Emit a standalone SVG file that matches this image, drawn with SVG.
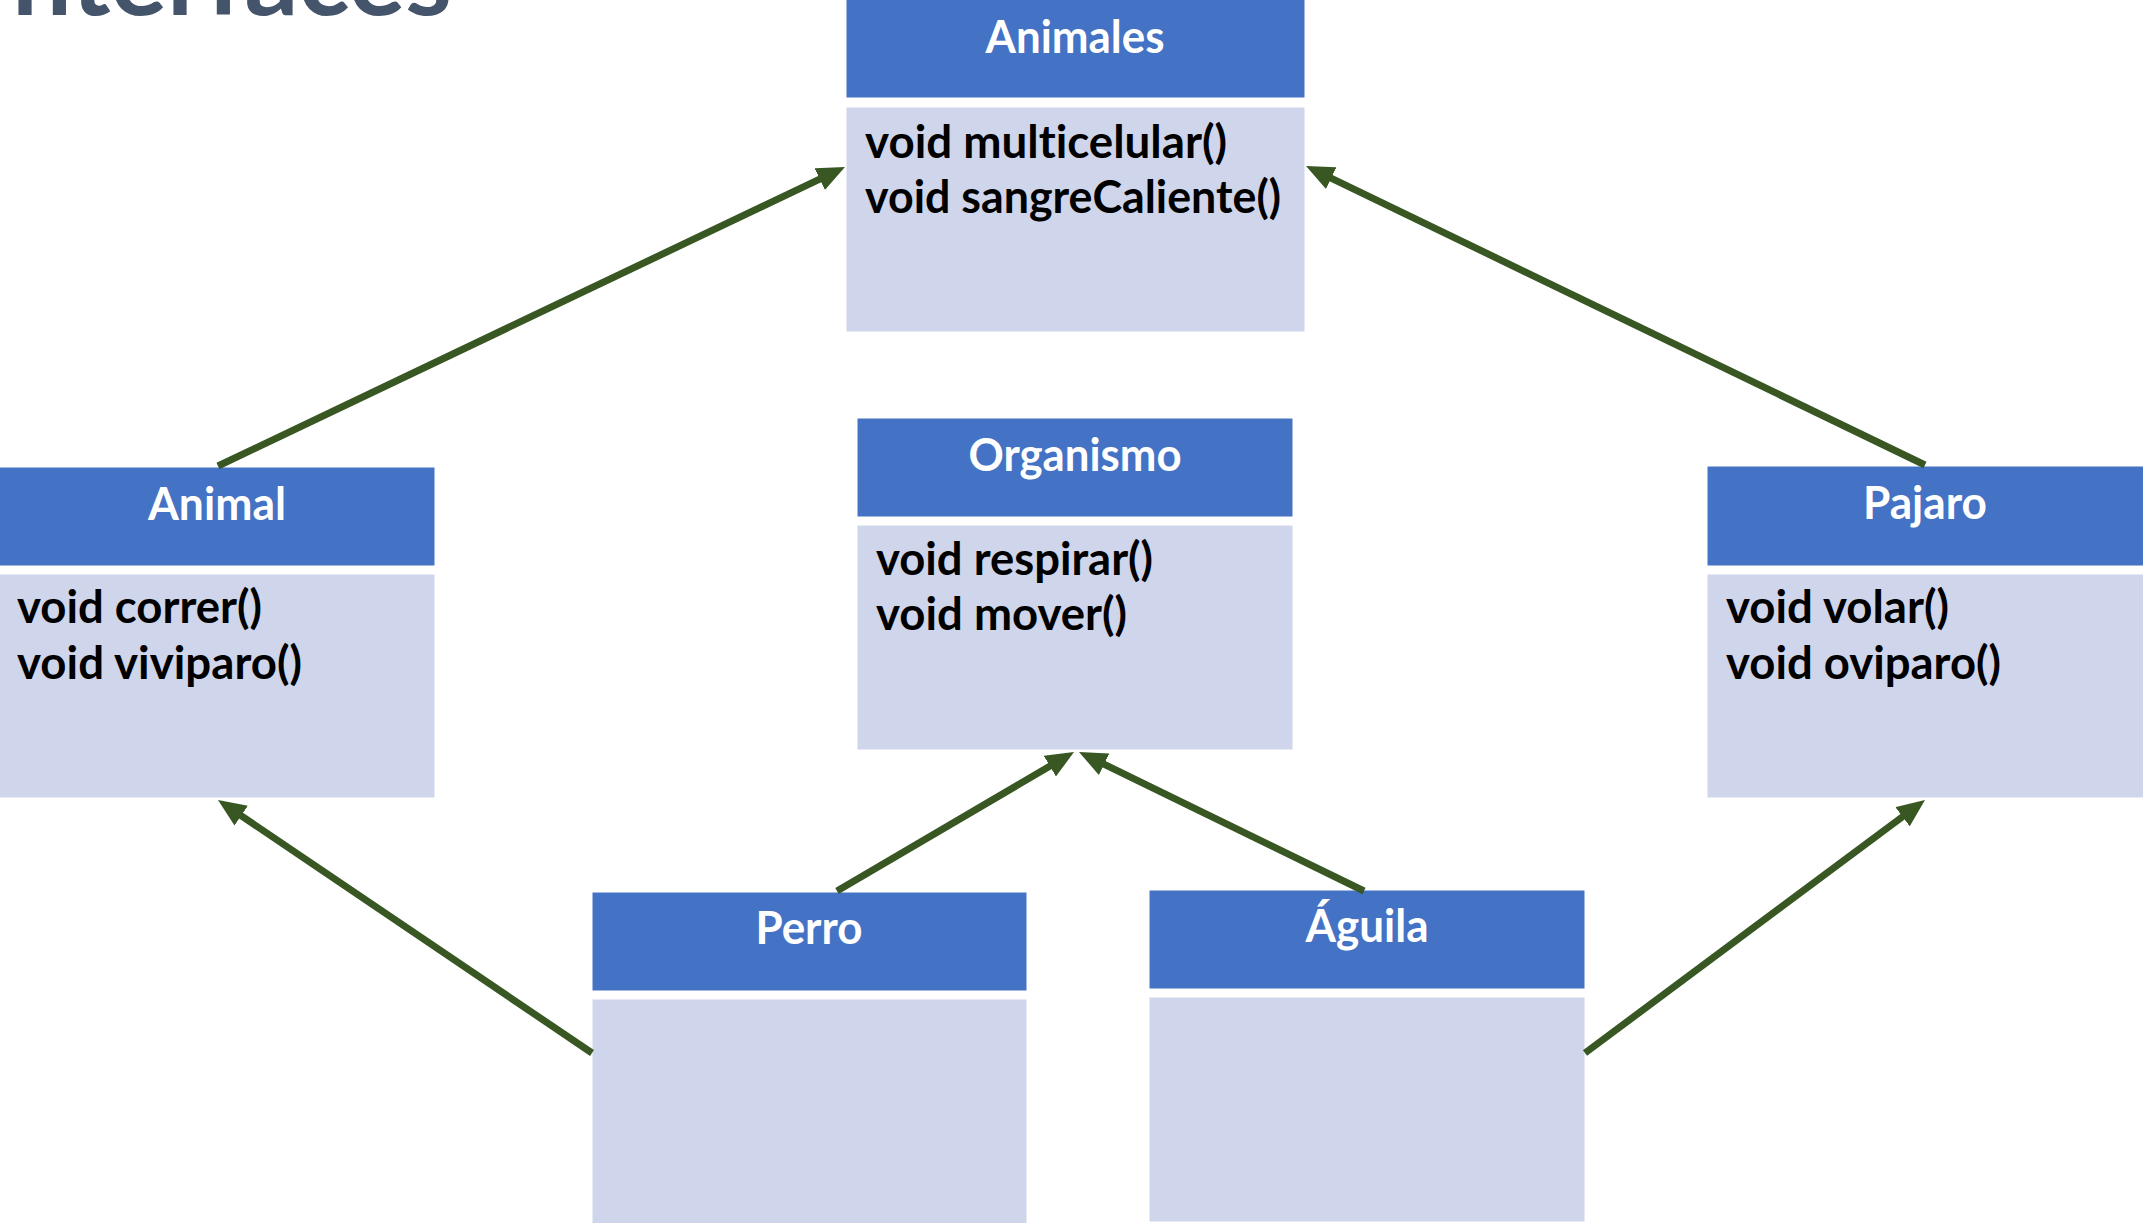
<svg xmlns="http://www.w3.org/2000/svg" width="2143" height="1223" viewBox="0 0 2143 1223">
<defs>
<style>
.hd{fill:#4472C4;stroke:#ffffff;stroke-width:1}
.bd{fill:#CFD5EA;stroke:#ffffff;stroke-width:1}
text{font-variant-ligatures:none;font-feature-settings:"liga" 0}
.ht{font-family:Lato,"Open Sans","Liberation Sans",sans-serif;font-weight:bold;font-size:45px;fill:#ffffff;text-anchor:middle}
.bt{font-family:Lato,"Open Sans","Liberation Sans",sans-serif;font-weight:bold;font-size:46px;fill:#000000}
.title{font-family:Lato,"Open Sans","Liberation Sans",sans-serif;font-weight:bold;font-size:104px;fill:#44546A}
.conn{stroke:#385723;stroke-width:7;fill:none;marker-end:url(#arr)}
</style>
<marker id="arr" markerUnits="userSpaceOnUse" markerWidth="28" markerHeight="24" viewBox="0 0 28 24" refX="18" refY="12" orient="auto">
<path d="M0,0 L28,12 L0,24 z" fill="#385723"/>
</marker>
</defs>
<rect x="0" y="0" width="2143" height="1223" fill="#ffffff"/>
<text class="title" x="12" y="15" textLength="440" lengthAdjust="spacingAndGlyphs">nterfaces</text>

<g id="animales">
<rect class="hd" x="846" y="-2" width="459" height="100"/>
<rect class="bd" x="846" y="107" width="459" height="225"/>
<text class="ht" x="1075" y="53" textLength="179" lengthAdjust="spacingAndGlyphs">Animales</text>
<text class="bt" x="865" y="158" textLength="362" lengthAdjust="spacingAndGlyphs">void multicelular()</text>
<text class="bt" x="865" y="213" textLength="416" lengthAdjust="spacingAndGlyphs">void sangreCaliente()</text>
</g>

<g id="organismo">
<rect class="hd" x="857" y="418" width="436" height="99"/>
<rect class="bd" x="857" y="525" width="436" height="225"/>
<text class="ht" x="1075" y="471" textLength="213" lengthAdjust="spacingAndGlyphs">Organismo</text>
<text class="bt" x="876" y="575" textLength="277" lengthAdjust="spacingAndGlyphs">void respirar()</text>
<text class="bt" x="876" y="630" textLength="251" lengthAdjust="spacingAndGlyphs">void mover()</text>
</g>

<g id="animal">
<rect class="hd" x="-1" y="467" width="436" height="99"/>
<rect class="bd" x="-1" y="574" width="436" height="224"/>
<text class="ht" x="217" y="520" textLength="138" lengthAdjust="spacingAndGlyphs">Animal</text>
<text class="bt" x="17" y="623" textLength="245" lengthAdjust="spacingAndGlyphs">void correr()</text>
<text class="bt" x="17" y="679" textLength="285" lengthAdjust="spacingAndGlyphs">void viviparo()</text>
</g>

<g id="pajaro">
<rect class="hd" x="1707" y="466" width="437" height="100"/>
<rect class="bd" x="1707" y="574" width="437" height="224"/>
<text class="ht" x="1925" y="519" textLength="124" lengthAdjust="spacingAndGlyphs">Pajaro</text>
<text class="bt" x="1726" y="623" textLength="223" lengthAdjust="spacingAndGlyphs">void volar()</text>
<text class="bt" x="1726" y="679" textLength="275" lengthAdjust="spacingAndGlyphs">void oviparo()</text>
</g>

<g id="perro">
<rect class="hd" x="592" y="892" width="435" height="99"/>
<rect class="bd" x="592" y="999" width="435" height="226"/>
<text class="ht" x="809" y="944" textLength="107" lengthAdjust="spacingAndGlyphs">Perro</text>
</g>

<g id="aguila">
<rect class="hd" x="1149" y="890" width="436" height="99"/>
<rect class="bd" x="1149" y="997" width="436" height="225"/>
<text class="ht" x="1367" y="942" textLength="123" lengthAdjust="spacingAndGlyphs">Águila</text>
</g>

<g id="connectors">
<line class="conn" x1="218" y1="466" x2="835.97" y2="171.3"/>
<line class="conn" x1="1925" y1="465" x2="1315" y2="170.35"/>
<line class="conn" x1="837" y1="891" x2="1065.38" y2="757.06"/>
<line class="conn" x1="1364" y1="891" x2="1087.99" y2="756.38"/>
<line class="conn" x1="592" y1="1053" x2="226.28" y2="805.6"/>
<line class="conn" x1="1585" y1="1053" x2="1916.98" y2="805.97"/>
</g>
</svg>
